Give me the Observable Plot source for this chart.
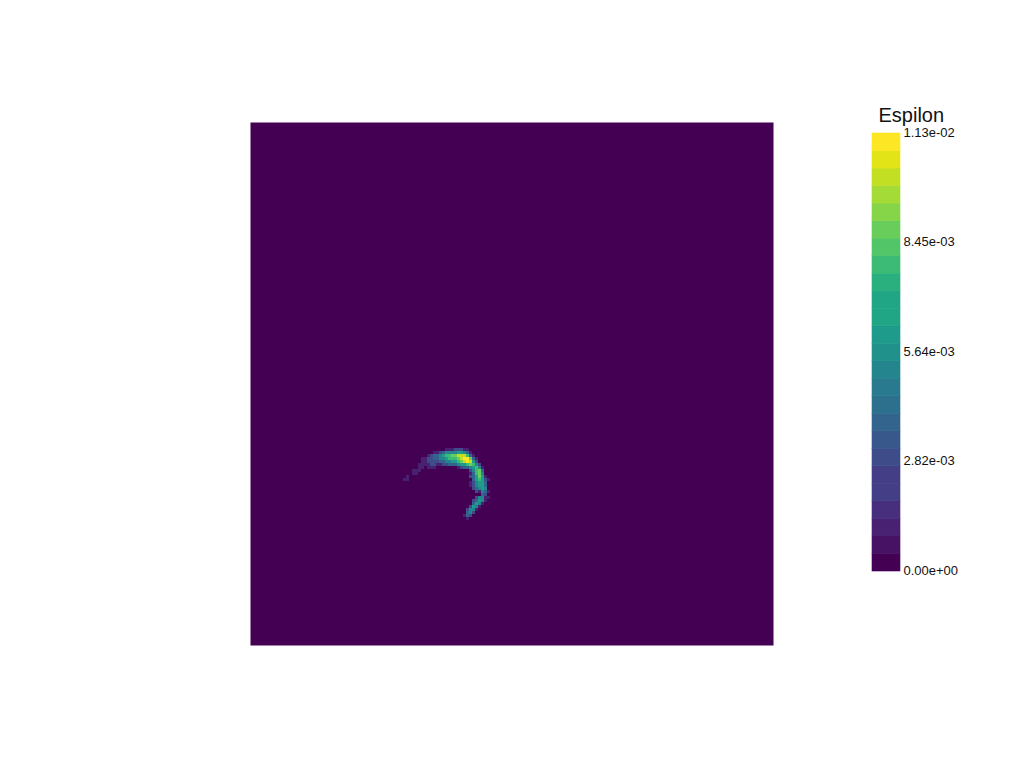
<!DOCTYPE html>
<html><head><meta charset="utf-8">
<script src="https://cdn.jsdelivr.net/npm/d3@7"></script>
<script src="https://cdn.jsdelivr.net/npm/@observablehq/plot@0.6"></script>
<style>
html,body{margin:0;padding:0;background:#fff;}
#wrap{position:relative;width:1024px;height:768px;overflow:hidden;}
#main{position:absolute;left:0;top:0;}
#bar{position:absolute;left:850px;top:100px;}
</style></head><body><div id="wrap"><div id="main"></div><div id="bar"></div></div>
<script>
// ---- data ----
const fieldName = "Espilon";
const maxValue = 0.01127;
const nBands = 25;
const meshSize = 175;          // cells per side of the square domain
const patchCol = 51;           // column of the first patch cell
const patchRow = 108;          // row of the first patch cell
const levels = 9;              // digit 9 = maxValue, "." = 0
const patch = [
  "..............................",
  "..............11122211........",
  "..........1123444455431.......",
  "........1233456677888631......",
  "......1122334456667899731.....",
  "......1122223344556789852.....",
  ".....111122112233345567642....",
  ".....11.111.......123345641...",
  "...111................24673...",
  "...11.................13674...",
  ".1....................235751..",
  "11.....................356521.",
  "......................124553..",
  "......................124553..",
  ".......................23454..",
  "........................21431.",
  "..........................32..",
  "........................24411.",
  ".......................23541..",
  ".......................3541...",
  "......................2541....",
  ".....................2441.....",
  ".....................342......",
  "....................132.......",
  ".....................1........"
];
const tickValues = [0, 0.0028175, 0.005635, 0.0084525, 0.01127];
const tickLabels = ["0.00e+00", "2.82e-03", "5.64e-03", "8.45e-03", "1.13e-02"];

// ---- build field ----
const values = new Float64Array(meshSize * meshSize);
patch.forEach((row, r) => {
  [...row].forEach((ch, c) => {
    if (ch !== ".") values[(patchRow + r) * meshSize + patchCol + c] = (+ch / levels) * maxValue;
  });
});

const colorOpts = {type: "quantize", n: nBands, scheme: "viridis", domain: [0, maxValue]};
const font = "'Liberation Sans', Arial, sans-serif";

const main = Plot.plot({
  width: 1024, height: 768,
  marginLeft: 250, marginRight: 251, marginTop: 122, marginBottom: 123,
  x: {domain: [0, 1], axis: null},
  y: {domain: [0, 1], reverse: true, axis: null},
  color: colorOpts,
  marks: [
    Plot.raster(values, {width: meshSize, height: meshSize, x1: 0, x2: 1, y1: 0, y2: 1, fill: d => d, imageRendering: "pixelated"})
  ]
});
document.getElementById("main").appendChild(main);

const bands = d3.range(nBands);
const bar = Plot.plot({
  width: 140, height: 491,
  marginLeft: 22, marginRight: 90, marginTop: 33, marginBottom: 20,
  style: {fontFamily: font, color: "#111", background: "transparent"},
  x: {domain: [0, 1], axis: null},
  y: {domain: [0, maxValue], axis: null},
  color: colorOpts,
  marks: [
    Plot.rect(bands, {x1: 0, x2: 1, y1: i => i * maxValue / nBands, y2: i => (i + 1) * maxValue / nBands,
      fill: i => (i + 0.5) * maxValue / nBands, stroke: i => (i + 0.5) * maxValue / nBands, strokeWidth: 0.6}),
    Plot.axisY(tickValues, {anchor: "right", tickSize: 0, tickPadding: 3, fontSize: 13, dy: -1,
      tickFormat: v => tickLabels[tickValues.indexOf(v)], fill: "#111"}),
    Plot.text([fieldName], {frameAnchor: "top-left", textAnchor: "start", lineAnchor: "bottom", dx: 6, dy: -12, fontSize: 20, fill: "#111"})
  ]
});
document.getElementById("bar").appendChild(bar);
</script>
</body></html>
